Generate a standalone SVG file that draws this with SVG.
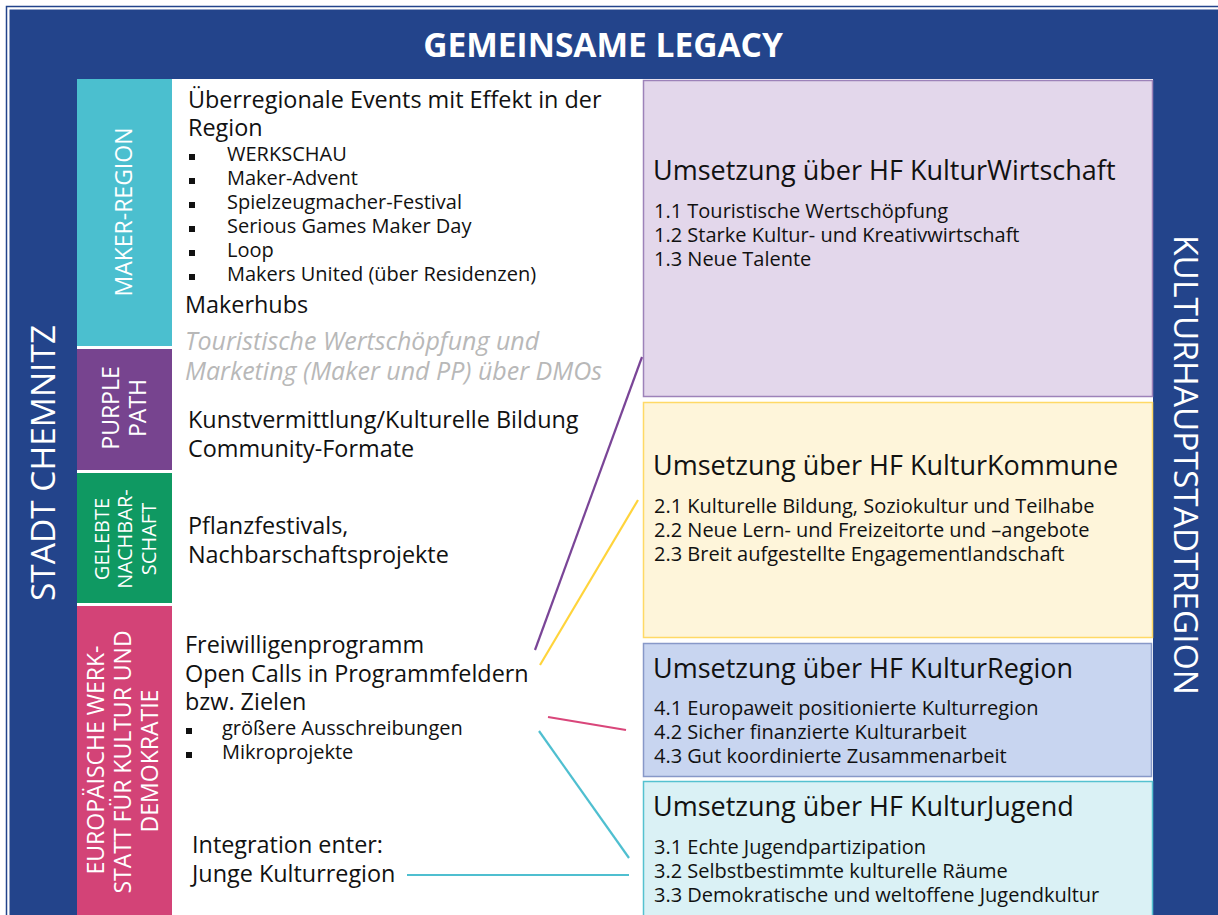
<svg xmlns="http://www.w3.org/2000/svg" width="1218" height="915" viewBox="0 0 1218 915">
  <style>
    text { font-family: "Open Sans", "Liberation Sans", sans-serif; }
    .title { fill: #ffffff; font-weight: 700; font-size: 33.5px; }
    .side { fill: #ffffff; font-size: 33.5px; }
    .band { fill: #ffffff; font-size: 23px; font-weight: 400; }
    .band-s { fill: #ffffff; font-size: 20px; font-weight: 400; }
    .body { fill: #111111; font-size: 23.4px; }
    .item { fill: #111111; font-size: 20px; }
    .muted { fill: #b8b8b8; font-size: 25px; font-style: italic; }
    .head { fill: #111111; font-size: 27px; }
    .goal { fill: #111111; font-size: 20px; }
    .bullet { fill: #111111; }
    .link { fill: none; stroke-width: 2.2; }
  </style>

  <!-- frame -->
  <rect x="0" y="0" width="1218" height="915" fill="#ffffff"/>
  <rect x="6.5" y="6.5" width="1220" height="920" fill="none" stroke="#23448b" stroke-width="1.5"/>
  <rect x="9.5" y="9.5" width="1220" height="920" fill="#23448b"/>
  <rect x="77" y="79" width="1076" height="840" fill="#ffffff"/>

  <g id="title">
    <text class="title" x="603" y="57" text-anchor="middle">GEMEINSAME LEGACY</text>
  </g>
  <g id="stadt-chemnitz">
    <text class="side" transform="translate(55,463) rotate(-90)" text-anchor="middle">STADT CHEMNITZ</text>
  </g>
  <g id="kulturhauptstadtregion">
    <text class="side" transform="translate(1174,465) rotate(90)" text-anchor="middle">KULTURHAUPTSTADTREGION</text>
  </g>

  <!-- left colour bands -->
  <g id="band-maker">
    <rect x="77" y="79" width="95" height="267" fill="#4bbfcf"/>
    <text class="band" transform="translate(132,212) rotate(-90)" text-anchor="middle">MAKER-REGION</text>
  </g>
  <g id="band-purple">
    <rect x="77" y="349" width="95" height="121" fill="#77448f"/>
    <text class="band" transform="translate(119,408) rotate(-90)" text-anchor="middle">PURPLE</text>
    <text class="band" transform="translate(146,408) rotate(-90)" text-anchor="middle">PATH</text>
  </g>
  <g id="band-nachbarschaft">
    <rect x="77" y="473" width="95" height="130" fill="#0f9962"/>
    <text class="band-s" transform="translate(109,539) rotate(-90)" text-anchor="middle">GELEBTE</text>
    <text class="band-s" transform="translate(132,539) rotate(-90)" text-anchor="middle">NACHBAR-</text>
    <text class="band-s" transform="translate(156,539) rotate(-90)" text-anchor="middle">SCHAFT</text>
  </g>
  <g id="band-werkstatt">
    <rect x="77" y="606" width="95" height="309" fill="#d34377"/>
    <text class="band" transform="translate(104,760) rotate(-90)" text-anchor="middle">EUROPÄISCHE WERK-</text>
    <text class="band" transform="translate(131,762) rotate(-90)" text-anchor="middle">STATT FÜR KULTUR UND</text>
    <text class="band" transform="translate(158,761) rotate(-90)" text-anchor="middle">DEMOKRATIE</text>
  </g>

  <!-- middle column -->
  <g id="events">
    <text class="body" x="188" y="108">Überregionale Events mit Effekt in der</text>
    <text class="body" x="188" y="136">Region</text>
    <rect class="bullet" x="189" y="154" width="6" height="6"/>
    <text class="item" x="227" y="161">WERKSCHAU</text>
    <rect class="bullet" x="189" y="178" width="6" height="6"/>
    <text class="item" x="227" y="185">Maker-Advent</text>
    <rect class="bullet" x="189" y="202" width="6" height="6"/>
    <text class="item" x="227" y="209">Spielzeugmacher-Festival</text>
    <rect class="bullet" x="189" y="226" width="6" height="6"/>
    <text class="item" x="227" y="233">Serious Games Maker Day</text>
    <rect class="bullet" x="189" y="250" width="6" height="6"/>
    <text class="item" x="227" y="257">Loop</text>
    <rect class="bullet" x="189" y="274" width="6" height="6"/>
    <text class="item" x="227" y="281">Makers United (über Residenzen)</text>
    <text class="body" x="185" y="313">Makerhubs</text>
  </g>
  <g id="dmo">
    <text class="muted" x="185" y="350">Touristische Wertschöpfung und</text>
    <text class="muted" x="185" y="380">Marketing (Maker und PP) über DMOs</text>
  </g>
  <g id="kunstvermittlung">
    <text class="body" x="188" y="428">Kunstvermittlung/Kulturelle Bildung</text>
    <text class="body" x="188" y="457">Community-Formate</text>
  </g>
  <g id="pflanzfestivals">
    <text class="body" x="188" y="534">Pflanzfestivals,</text>
    <text class="body" x="188" y="563">Nachbarschaftsprojekte</text>
  </g>
  <g id="freiwillige">
    <text class="body" x="185" y="653">Freiwilligenprogramm</text>
    <text class="body" x="185" y="682">Open Calls in Programmfeldern</text>
    <text class="body" x="185" y="710">bzw. Zielen</text>
    <rect class="bullet" x="186" y="728" width="6" height="6"/>
    <text class="item" x="222" y="735">größere Ausschreibungen</text>
    <rect class="bullet" x="186" y="752" width="6" height="6"/>
    <text class="item" x="222" y="759">Mikroprojekte</text>
  </g>
  <g id="enter">
    <text class="body" x="192" y="853">Integration enter:</text>
    <text class="body" x="192" y="882">Junge Kulturregion</text>
  </g>

  <!-- right column: Handlungsfelder -->
  <g id="hf-wirtschaft">
    <rect x="643.5" y="80.5" width="509" height="316" fill="#e3d7eb" stroke="#9d82b9" stroke-width="1.5"/>
    <text class="head" x="653" y="180">Umsetzung über HF KulturWirtschaft</text>
    <text class="goal" x="654" y="218">1.1 Touristische Wertschöpfung</text>
    <text class="goal" x="654" y="242">1.2 Starke Kultur- und Kreativwirtschaft</text>
    <text class="goal" x="654" y="266">1.3 Neue Talente</text>
  </g>
  <g id="hf-kommune">
    <rect x="643.5" y="402.5" width="509" height="235" fill="#fef5da" stroke="#ffd966" stroke-width="1.5"/>
    <text class="head" x="653" y="475">Umsetzung über HF KulturKommune</text>
    <text class="goal" x="654" y="513">2.1 Kulturelle Bildung, Soziokultur und Teilhabe</text>
    <text class="goal" x="654" y="537">2.2 Neue Lern- und Freizeitorte und –angebote</text>
    <text class="goal" x="654" y="561">2.3 Breit aufgestellte Engagementlandschaft</text>
  </g>
  <g id="hf-region">
    <rect x="643.5" y="643.5" width="508" height="133" fill="#c8d5f0" stroke="#8798c8" stroke-width="1.5"/>
    <text class="head" x="653" y="678">Umsetzung über HF KulturRegion</text>
    <text class="goal" x="654" y="715">4.1 Europaweit positionierte Kulturregion</text>
    <text class="goal" x="654" y="739">4.2 Sicher finanzierte Kulturarbeit</text>
    <text class="goal" x="654" y="763">4.3 Gut koordinierte Zusammenarbeit</text>
  </g>
  <g id="hf-jugend">
    <rect x="643.5" y="781.5" width="509" height="140" fill="#daf1f5" stroke="#55c1d0" stroke-width="1.5"/>
    <text class="head" x="653" y="816">Umsetzung über HF KulturJugend</text>
    <text class="goal" x="654" y="854">3.1 Echte Jugendpartizipation</text>
    <text class="goal" x="654" y="878">3.2 Selbstbestimmte kulturelle Räume</text>
    <text class="goal" x="654" y="902">3.3 Demokratische und weltoffene Jugendkultur</text>
  </g>

  <!-- connectors -->
  <g id="connectors">
    <line class="link" x1="535" y1="650" x2="642" y2="357" stroke="#7a4597"/>
    <line class="link" x1="540" y1="665" x2="638" y2="500" stroke="#ffd43b"/>
    <line class="link" x1="548" y1="717" x2="626" y2="730" stroke="#d9467a"/>
    <line class="link" x1="539" y1="731" x2="629" y2="858" stroke="#4fbfd0"/>
    <line class="link" x1="407" y1="875" x2="629" y2="875" stroke="#4fbfd0"/>
  </g>
</svg>
